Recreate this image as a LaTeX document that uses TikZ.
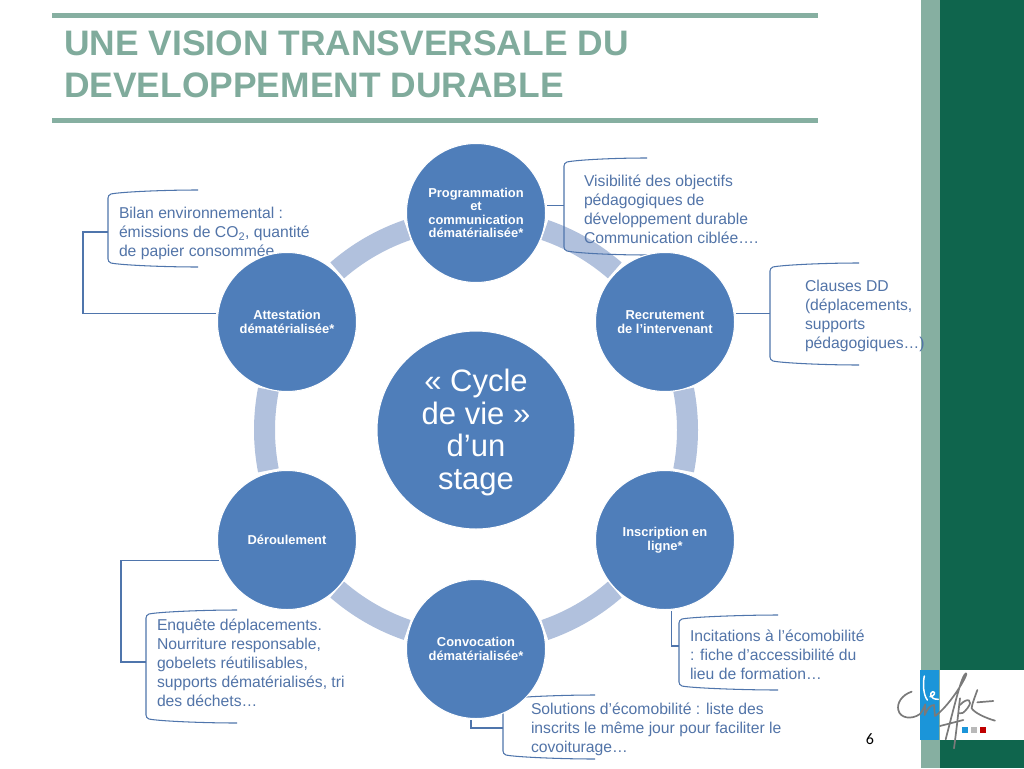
\documentclass[tikz,border=0pt]{standalone}
\usepackage{fontspec}
\setmainfont{Liberation Sans}
\newfontfamily\numfont{Carlito}
\definecolor{sagebar}{HTML}{86AFA1}
\definecolor{titlecol}{HTML}{80AB9C}
\definecolor{darkgreen}{HTML}{0F654D}
\definecolor{logoblue}{HTML}{1B95D9}
\definecolor{logogray}{HTML}{7A7A7A}
\definecolor{disc}{HTML}{4F7EBA}
\definecolor{ringcol}{HTML}{B1C1DD}
\definecolor{linecol}{HTML}{4F75AC}
\definecolor{notecol}{HTML}{5274A8}
\tikzset{
  x=1pt,y=-1pt,
  smalldisc/.style={circle,fill=disc,draw=white,line width=1pt,minimum size=139pt,inner sep=0pt,outer sep=2pt,text=white,align=center,font=\bfseries\fontsize{12.9}{13.5}\selectfont},
  bigdisc/.style={smalldisc,minimum size=198pt,font=\fontsize{31}{32.5}\selectfont},
  note/.style={anchor=north west,inner sep=0pt,outer sep=0pt,align=left,text=notecol,font=\fontsize{15.7}{19}\selectfont},
  link/.style={draw=linecol,line width=1.05pt},
  bracketline/.style={draw=linecol,line width=1.05pt,line join=round},
  titletext/.style={anchor=north west,inner sep=0pt,align=left,text=titlecol,font=\bfseries\fontsize{35.4}{42}\selectfont},
  logostroke/.style={draw=logogray,line width=1.7pt,line cap=round,line join=round},
  logowhite/.style={draw=white,line width=1.5pt,line cap=round,line join=round}
}
\newcommand{\bracketshape}[4]{% left x, top y, bottom y, right x
  \draw[bracketline] (#4,#2) .. controls ({#4-35},#2) and ({#1+12},{#2+2}) .. ({#1+3},{#2+4})
    .. controls ({#1+1},{#2+5}) and (#1,{#2+6}) .. (#1,{#2+8})
    -- (#1,{#3-8})
    .. controls (#1,{#3-6}) and ({#1+1},{#3-5}) .. ({#1+3},{#3-4})
    .. controls ({#1+12},{#3-2}) and ({#4-35},#3) .. (#4,#3);
}
\newcommand{\ringpiece}[1]{%
  \fill[ringcol] ({#1-11}:222pt) arc[start angle={#1-11},end angle={#1+11},radius=222pt]
    -- ({#1+11}:201pt) arc[start angle={#1+11},end angle={#1-11},radius=201pt] -- cycle;
}
\begin{document}
\begin{tikzpicture}
\useasboundingbox (0,0) rectangle (1024,768);
\fill[white] (0,0) rectangle (1024,768);
% side bands
\fill[sagebar] (921,0) rectangle (940,768);
\fill[darkgreen] (940,0) rectangle (1024,768);
\fill[white] (940,670) rectangle (1024,740);
\fill[logoblue] (920,670) rectangle (939,740);
% title
\fill[sagebar] (52,13) rectangle (818,18);
\fill[sagebar] (52,118) rectangle (818,123);
\node[titletext] (title) at (64,30.5) {UNE VISION TRANSVERSALE DU\\DEVELOPPEMENT DURABLE};
% ring
\begin{scope}[shift={(476,430)}]
\foreach \a in {0,60,120,180,240,300} {\ringpiece{\a}}
\end{scope}
% brackets
\bracketshape{108}{190}{267}{198}
\bracketshape{564}{158}{255}{647}
\bracketshape{770}{263}{365}{859}
\bracketshape{679}{615}{690}{778}
\bracketshape{146}{610}{723}{237}
\bracketshape{503}{695}{759}{595}
\coordinate (bAtt) at (108,232);
\coordinate (bProg) at (564,206);
\coordinate (bRec) at (770,313);
\coordinate (bIns) at (679,646);
\coordinate (bDer) at (146,662);
\coordinate (bCon) at (503,728);
\coordinate (cornerAtt) at (83,232);
\coordinate (cornerDer) at (121,662);
% notes
\node[note] (nAtt) at (119,207) {Bilan environnemental :\\émissions de CO\textsubscript{2}, quantité\\de papier consommée};
\node[note] (nProg) at (584,175) {Visibilité des objectifs\\pédagogiques de\\développement durable\\Communication ciblée….};
\node[note] (nRec) at (805,280) {Clauses DD\\(déplacements,\\supports\\pédagogiques…)};
\node[note] (nIns) at (690,630) {Incitations à l’écomobilité\\: fiche d’accessibilité du\\lieu de formation…};
\node[note] (nDer) at (157,619) {Enquête déplacements.\\Nourriture responsable,\\gobelets réutilisables,\\supports dématérialisés, tri\\des déchets…};
\node[note] (nCon) at (531,702.5) {Solutions d’écomobilité : liste des\\inscrits le même jour pour faciliter le\\covoiturage…};
% discs
\node[bigdisc] (core) at (476,430) {\vbox{\kern8pt\hbox{\begin{tabular}{@{}c@{}}« Cycle\\de vie »\\d’un\\stage\end{tabular}}}};
\node[smalldisc] (prog) at (476,213) {Programmation\\et\\communication\\dématérialisée*};
\node[smalldisc] (rec) at (665,322) {Recrutement\\de l’intervenant};
\node[smalldisc] (ins) at (665,540) {Inscription en\\ligne*};
\node[smalldisc] (con) at (476,649) {Convocation\\dématérialisée*};
\node[smalldisc] (der) at (287,540) {Déroulement};
\node[smalldisc] (att) at (287,322) {Attestation\\dématérialisée*};
% connectors
\draw[link] (att.173) -- (att.173 -| cornerAtt) -- (cornerAtt) -- (bAtt);
\draw[link] (prog.6) -- (prog.6 -| bProg);
\draw[link] (rec.7) -- (rec.7 -| bRec);
\draw[link] (ins.275) |- (bIns);
\draw[link] (der.197) -- (der.197 -| cornerDer) -- (cornerDer) -- (bDer);
\draw[link] (con.266) |- (bCon);
% page number
\node[inner sep=0pt,text=black,font=\numfont\fontsize{16}{18}\selectfont] (page) at (870,739) {6};
% logo
\begin{scope}[shift={(880,640)},x=0.3333pt,y=-0.3333pt]
\draw[logostroke] (95,155) .. controls (65,165) and (50,190) .. (55,210) .. controls (60,235) and (95,240) .. (120,222) .. controls (128,212) and (133,200) .. (136,193) -- (134,225) .. controls (142,205) and (152,195) .. (162,195) -- (165,228) .. controls (185,215) and (215,180) .. (240,140) .. controls (255,115) and (262,100) .. (258,100) .. controls (245,105) and (225,190) .. (197,298);
\draw[logostroke] (240,175) .. controls (235,215) and (232,250) .. (222,325);
\draw[logostroke] (180,258) -- (250,240);
\draw[logostroke] (240,195) .. controls (262,170) and (282,180) .. (262,205) .. controls (250,220) and (245,222) .. (238,220);
\draw[logostroke] (292,150) .. controls (285,170) and (275,195) .. (275,205) .. controls (285,220) and (320,235) .. (345,242);
\draw[logostroke] (292,187) -- (340,183);
\draw[logowhite] (133,108) .. controls (128,130) and (130,165) .. (142,180);
\draw[logowhite] (150,170) .. controls (165,168) and (168,155) .. (158,155) .. controls (148,158) and (148,178) .. (175,178);
\fill[logoblue] (246,260) rectangle (264,278);
\fill[gray!55] (273,260) rectangle (291,278);
\fill[red!75!black] (301,260) rectangle (319,278);
\end{scope}
\end{tikzpicture}
\end{document}
